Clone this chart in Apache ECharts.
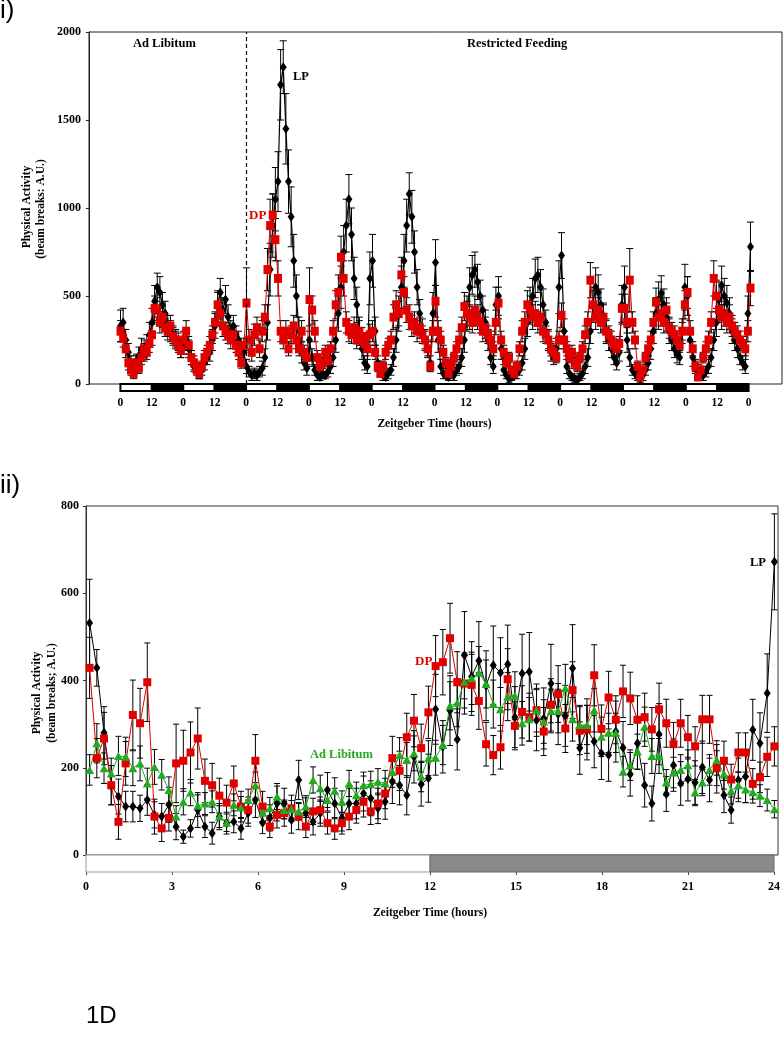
<!DOCTYPE html>
<html>
<head>
<meta charset="utf-8">
<title>Physical Activity</title>
<script src="https://cdn.jsdelivr.net/npm/echarts@6.0.0/dist/echarts.min.js"></script>
<style>
html, body { margin: 0; padding: 0; background: #fff; }
#main { width: 783px; height: 1050px; }
</style>
</head>
<body>
<div id="main"></div>
<script>
// panel i) hourly means over 10 days (hour 0 = ZT0 of first day), restricted feeding from hour 48
var lpTop = [
	330, 350, 250, 180, 120, 100, 130, 160, 200, 180, 220, 280, 350, 470, 550, 520, 450, 400, 330, 300, 280, 260, 240, 200,
	220, 250, 200, 150, 100, 90, 60, 80, 120, 150, 180, 250, 330, 450, 520, 420, 480, 380, 300, 330, 280, 250, 200, 180,
	100, 70, 50, 60, 50, 70, 90, 150, 350, 650, 900, 1050, 1150, 1700, 1800, 1450, 1150, 950, 700, 500, 300, 180, 120, 90,
	250, 150, 80, 50, 40, 60, 50, 70, 100, 150, 250, 400, 550, 750, 900, 1050, 850, 600, 450, 300, 200, 120, 100, 600,
	700, 300, 120, 80, 50, 40, 60, 80, 150, 250, 400, 550, 700, 900, 1080, 950, 750, 550, 400, 300, 250, 200, 120, 400,
	690, 250, 100, 60, 50, 40, 60, 50, 80, 100, 150, 250, 400, 550, 620, 650, 580, 500, 420, 350, 250, 150, 100, 450,
	500, 200, 80, 50, 30, 40, 50, 60, 80, 120, 200, 350, 450, 500, 600, 620, 550, 450, 350, 250, 180, 150, 200, 550,
	730, 300, 100, 60, 40, 30, 20, 40, 60, 100, 150, 300, 450, 550, 520, 450, 380, 300, 250, 200, 150, 120, 180, 450,
	550, 250, 150, 80, 60, 40, 30, 50, 80, 120, 200, 300, 400, 480, 515, 450, 380, 300, 250, 200, 170, 150, 300, 550,
	500, 250, 150, 100, 80, 60, 50, 70, 100, 150, 250, 350, 480, 560, 500, 460, 400, 300, 250, 200, 150, 120, 100, 400, 780
];
var lpTopErr = [
	90, 80, 60, 50, 40, 40, 40, 50, 60, 50, 60, 70, 80, 90, 80, 90, 70, 70, 60, 60, 50, 50, 50, 50,
	50, 60, 50, 40, 30, 30, 30, 30, 40, 40, 50, 60, 70, 80, 80, 70, 80, 70, 60, 60, 50, 50, 40, 40,
	40, 30, 30, 30, 30, 30, 40, 50, 100, 150, 180, 180, 170, 200, 150, 200, 180, 170, 150, 120, 80, 60, 40, 40,
	80, 50, 30, 30, 20, 30, 20, 30, 40, 50, 70, 100, 120, 150, 150, 140, 150, 120, 100, 80, 60, 40, 40, 150,
	150, 80, 40, 30, 30, 20, 30, 30, 50, 70, 100, 120, 150, 150, 120, 150, 120, 100, 80, 70, 60, 50, 40, 120,
	130, 70, 40, 30, 20, 20, 30, 30, 30, 40, 50, 70, 100, 110, 110, 100, 100, 90, 80, 70, 60, 40, 40, 100,
	110, 60, 30, 20, 20, 20, 20, 30, 30, 40, 60, 80, 100, 100, 110, 100, 100, 90, 70, 60, 50, 40, 60, 150,
	130, 70, 40, 30, 20, 20, 20, 20, 30, 40, 50, 70, 100, 110, 100, 90, 80, 70, 60, 50, 40, 40, 50, 110,
	120, 70, 50, 30, 30, 20, 20, 30, 30, 40, 60, 70, 90, 100, 100, 90, 80, 70, 60, 50, 50, 40, 70, 130,
	110, 70, 50, 40, 30, 30, 30, 30, 40, 50, 60, 80, 100, 110, 100, 100, 90, 70, 60, 50, 40, 40, 40, 100, 140
];
var dpTop = [
	300, 260, 200, 120, 80, 60, 120, 90, 150, 200, 180, 230, 280, 430, 420, 350, 380, 320, 300, 330, 270, 250, 220, 190,
	250, 300, 220, 150, 120, 80, 60, 100, 150, 180, 220, 280, 350, 450, 400, 330, 300, 280, 250, 280, 220, 180, 120, 220,
	460, 250, 180, 280, 320, 200, 300, 380, 650, 900, 960, 820, 600, 300, 250, 300, 200, 280, 330, 250, 200, 300, 180, 150,
	480, 420, 300, 150, 100, 120, 180, 130, 200, 300, 450, 520, 720, 600, 350, 300, 280, 320, 250, 300, 270, 230, 200, 280,
	300, 180, 100, 60, 100, 180, 220, 250, 380, 450, 400, 620, 520, 420, 380, 330, 350, 300, 320, 280, 250, 200, 100, 300,
	470, 300, 250, 180, 120, 60, 100, 150, 200, 250, 320, 440, 400, 380, 350, 420, 380, 350, 300, 320, 280, 250, 200, 350,
	460, 250, 180, 120, 150, 80, 60, 100, 200, 300, 350, 450, 420, 380, 400, 350, 380, 300, 280, 250, 200, 180, 150, 250,
	390, 250, 200, 150, 180, 120, 100, 150, 200, 280, 350, 590, 450, 380, 420, 350, 380, 300, 280, 250, 220, 200, 230, 430,
	430, 350, 590, 350, 250, 100, 40, 80, 150, 200, 250, 350, 465, 380, 400, 350, 420, 320, 300, 280, 250, 220, 300, 450,
	520, 300, 200, 100, 40, 80, 150, 200, 250, 350, 600, 500, 420, 380, 400, 350, 380, 330, 300, 280, 250, 230, 200, 300, 545
];
var dpTopErr = [
	60, 50, 50, 40, 30, 30, 40, 30, 40, 50, 40, 50, 60, 70, 70, 60, 60, 50, 50, 60, 50, 50, 40, 40,
	50, 60, 50, 40, 40, 30, 30, 30, 40, 40, 50, 50, 60, 70, 60, 60, 50, 50, 50, 50, 40, 40, 30, 40,
	200, 60, 50, 60, 60, 50, 60, 70, 120, 150, 120, 120, 100, 60, 50, 60, 40, 50, 60, 50, 40, 60, 40, 40,
	180, 80, 60, 40, 30, 30, 40, 30, 40, 60, 80, 100, 120, 100, 60, 60, 50, 60, 50, 60, 50, 50, 40, 60,
	60, 40, 30, 20, 30, 40, 40, 50, 70, 80, 70, 100, 90, 70, 70, 60, 60, 60, 60, 50, 50, 40, 30, 60,
	90, 60, 50, 40, 30, 20, 30, 30, 40, 50, 60, 80, 70, 70, 60, 80, 70, 60, 60, 60, 50, 50, 40, 70,
	90, 50, 40, 30, 30, 20, 20, 30, 40, 60, 60, 80, 80, 70, 70, 60, 70, 60, 50, 50, 40, 40, 30, 50,
	70, 50, 40, 30, 40, 30, 30, 30, 40, 50, 60, 100, 80, 70, 70, 60, 70, 60, 50, 50, 40, 40, 40, 80,
	80, 60, 180, 60, 50, 30, 20, 20, 30, 40, 50, 60, 80, 70, 70, 60, 70, 60, 50, 50, 50, 40, 50, 80,
	90, 60, 40, 30, 20, 20, 30, 40, 50, 60, 100, 90, 70, 70, 70, 60, 70, 60, 50, 50, 50, 40, 40, 60, 100
];
// 12 h light/dark blocks under panel i)
var ldTop = ['L', 'D', 'L', 'D', 'L', 'D', 'L', 'D', 'L', 'D', 'L', 'D', 'L', 'D', 'L', 'D', 'L', 'D', 'L', 'D'];

// panel ii) 15 min bins over one day
var binHours = 0.25;
var lpDay = [
	532, 429, 280, 160, 134, 111, 111, 107, 126, 92,
	88, 115, 65, 42, 61, 103, 65, 50, 88, 73,
	76, 61, 96, 126, 74, 85, 118, 118, 80, 172,
	96, 76, 96, 149, 118, 85, 118, 118, 141, 130,
	107, 122, 168, 160, 137, 225, 162, 176, 334, 248,
	331, 265, 458, 409, 445, 388, 435, 418, 437, 316,
	416, 420, 309, 313, 393, 323, 319, 428, 245, 288,
	260, 233, 229, 283, 246, 185, 256, 160, 118, 277,
	140, 206, 164, 174, 166, 201, 172, 202, 137, 103,
	172, 180, 287, 256, 371, 672
];
var lpDayErr = [
	100, 42, 60, 45, 40, 35, 35, 30, 35, 30,
	30, 40, 30, 15, 20, 40, 25, 25, 30, 25,
	25, 25, 30, 40, 25, 30, 40, 35, 30, 45,
	35, 30, 30, 40, 35, 30, 35, 35, 40, 40,
	35, 40, 50, 45, 45, 60, 50, 55, 80, 60,
	80, 70, 100, 80, 90, 80, 90, 80, 90, 70,
	90, 90, 70, 70, 90, 70, 70, 100, 60, 70,
	60, 60, 60, 70, 60, 50, 60, 50, 40, 70,
	40, 60, 50, 50, 50, 60, 50, 60, 40, 30,
	50, 60, 70, 70, 90, 110
];
var dpDay = [
	429, 222, 267, 160, 76, 210, 321, 302, 396, 88,
	61, 85, 210, 216, 235, 267, 170, 160, 136, 120,
	164, 111, 103, 216, 111, 65, 92, 96, 107, 88,
	65, 100, 103, 73, 61, 73, 88, 103, 122, 100,
	118, 141, 222, 193, 270, 308, 245, 327, 433, 442,
	497, 396, 393, 390, 353, 254, 229, 247, 403, 296,
	328, 316, 332, 283, 344, 369, 290, 378, 285, 288,
	412, 289, 361, 310, 375, 359, 310, 316, 288, 334,
	302, 254, 302, 270, 249, 311, 311, 199, 216, 173,
	235, 235, 163, 178, 225, 249
];
var dpDayErr = [
	70, 45, 60, 45, 40, 50, 80, 80, 90, 40,
	30, 30, 90, 70, 70, 70, 50, 50, 40, 40,
	40, 35, 30, 60, 35, 25, 30, 30, 30, 30,
	25, 30, 30, 25, 25, 25, 30, 30, 35, 30,
	35, 35, 50, 45, 55, 60, 55, 60, 70, 75,
	80, 70, 70, 70, 65, 50, 45, 50, 70, 55,
	60, 55, 60, 55, 60, 65, 55, 65, 55, 55,
	70, 55, 60, 55, 60, 60, 55, 55, 50, 60,
	55, 50, 55, 50, 45, 55, 55, 40, 45, 35,
	45, 45, 35, 35, 45, 45
];
var alDay = [
	195, 256, 199, 187, 227, 225, 199, 210, 164, 202,
	184, 149, 88, 122, 143, 113, 118, 122, 88, 74,
	115, 109, 126, 160, 97, 107, 134, 103, 105, 100,
	111, 172, 153, 126, 147, 122, 164, 137, 160, 162,
	168, 164, 190, 229, 218, 233, 180, 222, 223, 252,
	342, 349, 397, 405, 418, 392, 346, 334, 363, 365,
	302, 311, 332, 306, 330, 330, 382, 311, 298, 298,
	332, 271, 280, 280, 191, 206, 237, 294, 227, 227,
	166, 189, 195, 206, 143, 166, 195, 218, 186, 147,
	160, 150, 144, 136, 126, 105
];
var alDayErr = [
	35, 45, 35, 35, 45, 45, 40, 40, 35, 40,
	35, 30, 25, 30, 30, 25, 25, 25, 25, 20,
	25, 25, 25, 30, 20, 25, 30, 20, 20, 20,
	25, 30, 30, 25, 30, 25, 30, 30, 30, 30,
	30, 30, 35, 40, 40, 40, 35, 40, 40, 45,
	55, 55, 60, 60, 60, 55, 55, 50, 55, 55,
	50, 50, 50, 50, 50, 50, 55, 50, 45, 45,
	50, 45, 45, 45, 35, 35, 40, 45, 40, 40,
	30, 35, 35, 35, 30, 30, 35, 35, 35, 30,
	30, 30, 25, 25, 25, 20
];
var ldDay = ['L', 'D'];

var SERIF = '"Liberation Serif", "Times New Roman", serif';
var SANS = '"Liberation Sans", Arial, sans-serif';
var RED = '#e00000';
var GREEN = '#22aa22';

function toPoints(vals, step, offset) {
	return vals.map(function(v, i) { return [offset + i * step, v]; });
}
function toErr(vals, errs, step, offset) {
	return vals.map(function(v, i) { return [offset + i * step, Math.max(0, v - errs[i]), v + errs[i]]; });
}
function toBlocks(list, len) {
	return list.map(function(p, i) { return [i * len, (i + 1) * len, p === 'D' ? 1 : 0]; });
}

function errRender(cap) {
	return function(params, api) {
		var top = api.coord([api.value(0), api.value(2)]);
		var bot = api.coord([api.value(0), api.value(1)]);
		var st = { stroke: '#000', lineWidth: 1 };
		return {
			type: 'group',
			children: [
				{ type: 'line', shape: { x1: top[0], y1: top[1], x2: bot[0], y2: bot[1] }, style: st },
				{ type: 'line', shape: { x1: top[0] - cap, y1: top[1], x2: top[0] + cap, y2: top[1] }, style: st },
				{ type: 'line', shape: { x1: bot[0] - cap, y1: bot[1], x2: bot[0] + cap, y2: bot[1] }, style: st }
			]
		};
	};
}

function ldRender(lightFill, lightStroke, darkFill, darkStroke, lw) {
	return function(params, api) {
		var a = api.coord([api.value(0), 1]);
		var b = api.coord([api.value(1), 0]);
		var dark = api.value(2) === 1;
		return {
			type: 'rect',
			shape: { x: a[0], y: a[1], width: b[0] - a[0], height: b[1] - a[1] },
			style: { fill: dark ? darkFill : lightFill, stroke: dark ? darkStroke : lightStroke, lineWidth: lw }
		};
	};
}

function txt(x, y, s, font, color, align, rot) {
	return {
		type: 'text', x: x, y: y, rotation: rot || 0, z: 100,
		style: { text: s, font: font, fill: color || '#000', textAlign: align || 'left', verticalAlign: 'middle', textVerticalAlign: 'middle' }
	};
}

function plain(v) { return String(v); }

var myChart = echarts.init(document.getElementById('main'), null, { renderer: 'canvas' });
myChart.setOption({
	animation: false,
	backgroundColor: '#fff',
	grid: [
		{ left: 89, top: 32, width: 693, height: 352, show: true, borderColor: '#222', borderWidth: 1 },
		{ left: 89, top: 384, width: 693, height: 7 },
		{ left: 86, top: 506, width: 692, height: 349, show: true, borderColor: '#333', borderWidth: 1 },
		{ left: 86, top: 855, width: 692, height: 17 }
	],
	xAxis: [
		{ gridIndex: 0, type: 'value', min: -12, max: 252, axisLine: { show: false }, axisTick: { show: false }, axisLabel: { show: false }, splitLine: { show: false } },
		{
			gridIndex: 1, type: 'value', min: -12, max: 252, interval: 12,
			axisLine: { show: false }, axisTick: { show: false }, splitLine: { show: false },
			// tick labels under the day bar read as ZT of each day
			axisLabel: {
				margin: 6, fontFamily: SERIF, fontWeight: 'bold', fontSize: 11.5, color: '#000',
				formatter: function(v) { return (v < 0 || v > 240) ? '' : String(v % 24); }
			},
			name: 'Zeitgeber Time (hours)', nameLocation: 'middle', nameGap: 27,
			nameTextStyle: { fontFamily: SERIF, fontWeight: 'bold', fontSize: 11.5, color: '#000' }
		},
		{ gridIndex: 2, type: 'value', min: 0, max: 24, axisLine: { show: false }, axisTick: { show: false }, axisLabel: { show: false }, splitLine: { show: false } },
		{
			gridIndex: 3, type: 'value', min: 0, max: 24, interval: 3,
			axisLine: { show: false }, splitLine: { show: false },
			axisTick: { show: true, length: 3, lineStyle: { color: '#444' } },
			axisLabel: { margin: 9, fontFamily: SERIF, fontWeight: 'bold', fontSize: 12, color: '#000' },
			name: 'Zeitgeber Time (hours)', nameLocation: 'middle', nameGap: 35,
			nameTextStyle: { fontFamily: SERIF, fontWeight: 'bold', fontSize: 11.5, color: '#000' }
		}
	],
	yAxis: [
		{
			gridIndex: 0, type: 'value', min: 0, max: 2000, interval: 500,
			axisLine: { show: true, onZero: false, lineStyle: { color: '#222' } },
			axisTick: { show: true, length: 3, lineStyle: { color: '#222' } },
			axisLabel: { margin: 8, fontFamily: SERIF, fontWeight: 'bold', fontSize: 12, color: '#000', formatter: plain },
			splitLine: { show: false }
		},
		{ gridIndex: 1, type: 'value', min: 0, max: 1, show: false },
		{
			gridIndex: 2, type: 'value', min: 0, max: 800, interval: 200,
			axisLine: { show: true, onZero: false, lineStyle: { color: '#333' } },
			axisTick: { show: true, length: 3, lineStyle: { color: '#333' } },
			axisLabel: { margin: 7, fontFamily: SERIF, fontWeight: 'bold', fontSize: 12, color: '#000', formatter: plain },
			splitLine: { show: false }
		},
		{ gridIndex: 3, type: 'value', min: 0, max: 1, show: false }
	],
	series: [
		{ type: 'custom', xAxisIndex: 0, yAxisIndex: 0, renderItem: errRender(3.5), clip: true, encode: { x: 0, y: [1, 2] }, data: toErr(lpTop, lpTopErr, 1, 0) },
		{ type: 'custom', xAxisIndex: 0, yAxisIndex: 0, renderItem: errRender(3.5), clip: true, encode: { x: 0, y: [1, 2] }, data: toErr(dpTop, dpTopErr, 1, 0) },
		{
			name: 'LP', type: 'line', xAxisIndex: 0, yAxisIndex: 0, data: toPoints(lpTop, 1, 0),
			symbol: 'diamond', symbolSize: [7, 10], itemStyle: { color: '#000' }, lineStyle: { color: '#000', width: 1.2 },
			markLine: {
				silent: true, symbol: 'none', label: { show: false },
				lineStyle: { color: '#000', type: [4, 3], width: 1.2 },
				data: [{ xAxis: 48 }]
			}
		},
		{
			name: 'DP', type: 'line', xAxisIndex: 0, yAxisIndex: 0, data: toPoints(dpTop, 1, 0),
			symbol: 'rect', symbolSize: [8, 9], itemStyle: { color: RED }, lineStyle: { color: RED, width: 1 }
		},
		{ type: 'custom', xAxisIndex: 1, yAxisIndex: 1, renderItem: ldRender('#fff', '#000', '#000', '#000', 2), data: toBlocks(ldTop, 12) },

		{ type: 'custom', xAxisIndex: 2, yAxisIndex: 2, renderItem: errRender(3), clip: true, encode: { x: 0, y: [1, 2] }, data: toErr(lpDay, lpDayErr, binHours, binHours / 2) },
		{ type: 'custom', xAxisIndex: 2, yAxisIndex: 2, renderItem: errRender(3), clip: true, encode: { x: 0, y: [1, 2] }, data: toErr(dpDay, dpDayErr, binHours, binHours / 2) },
		{ type: 'custom', xAxisIndex: 2, yAxisIndex: 2, renderItem: errRender(3), clip: true, encode: { x: 0, y: [1, 2] }, data: toErr(alDay, alDayErr, binHours, binHours / 2) },
		{
			name: 'LP', type: 'line', xAxisIndex: 2, yAxisIndex: 2, data: toPoints(lpDay, binHours, binHours / 2),
			symbol: 'diamond', symbolSize: [7, 10], itemStyle: { color: '#000' }, lineStyle: { color: '#000', width: 1 }
		},
		{
			name: 'DP', type: 'line', xAxisIndex: 2, yAxisIndex: 2, data: toPoints(dpDay, binHours, binHours / 2),
			symbol: 'rect', symbolSize: [8, 8], itemStyle: { color: RED }, lineStyle: { color: RED, width: 1 }
		},
		{
			name: 'Ad Libitum', type: 'line', xAxisIndex: 2, yAxisIndex: 2, data: toPoints(alDay, binHours, binHours / 2),
			symbol: 'triangle', symbolSize: [9, 8], itemStyle: { color: GREEN }, lineStyle: { color: GREEN, width: 1 }
		},
		{ type: 'custom', xAxisIndex: 3, yAxisIndex: 3, renderItem: ldRender('#fff', '#999', '#8a8a8a', '#666', 1), data: toBlocks(ldDay, 12) }
	],
	graphic: [
		txt(0, 11, 'i)', '26px ' + SANS),
		txt(133, 44, 'Ad Libitum', 'bold 12.5px ' + SERIF),
		txt(467, 44, 'Restricted Feeding', 'bold 12.5px ' + SERIF),
		txt(293, 77, 'LP', 'bold 12.5px ' + SERIF),
		txt(249, 216, 'DP', 'bold 13px ' + SERIF, RED),
		txt(27, 207, 'Physical Activity', 'bold 11.5px ' + SERIF, '#000', 'center', Math.PI / 2),
		txt(41, 209, '(beam breaks: A.U.)', 'bold 11.5px ' + SERIF, '#000', 'center', Math.PI / 2),

		txt(0, 486, 'ii)', '26px ' + SANS),
		txt(750, 563, 'LP', 'bold 12.5px ' + SERIF),
		txt(415, 662, 'DP', 'bold 13px ' + SERIF, RED),
		txt(310, 755, 'Ad Libitum', 'bold 12.5px ' + SERIF, GREEN),
		txt(37, 693, 'Physical Activity', 'bold 11.5px ' + SERIF, '#000', 'center', Math.PI / 2),
		txt(52, 693, '(beam breaks; A.U.)', 'bold 11.5px ' + SERIF, '#000', 'center', Math.PI / 2),

		txt(86, 1016, '1D', '24px ' + SANS)
	]
});
</script>
</body>
</html>
